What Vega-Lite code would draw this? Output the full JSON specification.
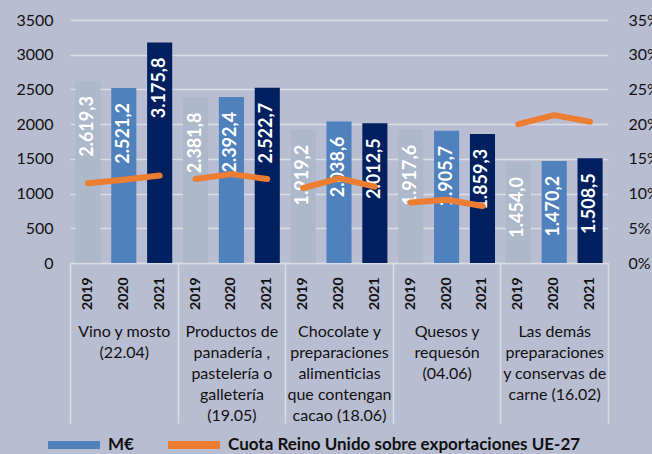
{
  "$schema": "https://vega.github.io/schema/vega-lite/v6.json",
  "width": 538,
  "height": 243,
  "autosize": {"type": "none"},
  "padding": {"left": 70, "top": 20, "right": 44, "bottom": 191},
  "background": "#b8bdd2",
  "config": {
    "view": {"stroke": null},
    "font": "Lato",
    "locale": {"number": {"decimal": ",", "thousands": ".", "grouping": [3], "currency": ["", " €"]}},
    "axis": {"labelColor": "#111111", "labelFont": "Lato"}
  },
  "data": {
    "values": [
      {"cat": "Vino y mosto|(22.04)", "year": "2019", "key": "Vino 2019", "value": 2619.3, "share": 0.115},
      {"cat": "Vino y mosto|(22.04)", "year": "2020", "key": "Vino 2020", "value": 2521.2, "share": 0.12},
      {"cat": "Vino y mosto|(22.04)", "year": "2021", "key": "Vino 2021", "value": 3175.8, "share": 0.126},
      {"cat": "Productos de|panadería ,|pastelería o|galletería|(19.05)", "year": "2019", "key": "Panaderia 2019", "value": 2381.8, "share": 0.121},
      {"cat": "Productos de|panadería ,|pastelería o|galletería|(19.05)", "year": "2020", "key": "Panaderia 2020", "value": 2392.4, "share": 0.128},
      {"cat": "Productos de|panadería ,|pastelería o|galletería|(19.05)", "year": "2021", "key": "Panaderia 2021", "value": 2522.7, "share": 0.121},
      {"cat": "Chocolate y|preparaciones|alimenticias|que contengan|cacao  (18.06)", "year": "2019", "key": "Chocolate 2019", "value": 1919.2, "share": 0.108},
      {"cat": "Chocolate y|preparaciones|alimenticias|que contengan|cacao  (18.06)", "year": "2020", "key": "Chocolate 2020", "value": 2038.6, "share": 0.122},
      {"cat": "Chocolate y|preparaciones|alimenticias|que contengan|cacao  (18.06)", "year": "2021", "key": "Chocolate 2021", "value": 2012.5, "share": 0.11},
      {"cat": "Quesos y|requesón|(04.06)", "year": "2019", "key": "Quesos 2019", "value": 1917.6, "share": 0.087},
      {"cat": "Quesos y|requesón|(04.06)", "year": "2020", "key": "Quesos 2020", "value": 1905.7, "share": 0.091},
      {"cat": "Quesos y|requesón|(04.06)", "year": "2021", "key": "Quesos 2021", "value": 1859.3, "share": 0.082},
      {"cat": "Las demás|preparaciones|y conservas de|carne (16.02)", "year": "2019", "key": "Carne 2019", "value": 1454.0, "share": 0.2},
      {"cat": "Las demás|preparaciones|y conservas de|carne (16.02)", "year": "2020", "key": "Carne 2020", "value": 1470.2, "share": 0.213},
      {"cat": "Las demás|preparaciones|y conservas de|carne (16.02)", "year": "2021", "key": "Carne 2021", "value": 1508.5, "share": 0.2035}
    ]
  },
  "layer": [
    {
      "layer": [
        {
          "layer": [
            {
              "mark": {"type": "bar", "strokeWidth": 0},
              "encoding": {
                "x": {
                  "field": "key", "type": "nominal", "sort": null,
                  "scale": {"paddingInner": 0.3, "paddingOuter": 0.15},
                  "axis": {"orient": "bottom", "title": null, "labelExpr": "slice(datum.value, -4)", "labelAngle": -90, "labelFontSize": 14, "labelFontWeight": "bold", "labelPadding": 14, "ticks": false, "domain": false, "grid": false}
                },
                "y": {
                  "field": "value", "type": "quantitative",
                  "scale": {"domain": [0, 3500]},
                  "axis": {"title": null, "values": [0, 500, 1000, 1500, 2000, 2500, 3000, 3500], "format": "d", "labelOverlap": false, "labelFontSize": 16, "labelFontWeight": "normal", "labelPadding": 17, "ticks": false, "domain": false, "grid": true, "gridColor": "#dcdde4", "gridWidth": 1.5}
                },
                "fill": {
                  "field": "year", "type": "nominal",
                  "scale": {"domain": ["2019", "2020", "2021"], "range": ["#adb8cb", "#4f81bd", "#002060"]},
                  "legend": null
                },
                "stroke": {
                  "datum": "M€",
                  "scale": {"domain": ["M€", "Cuota Reino Unido sobre exportaciones UE-27"], "range": ["#4f81bd", "#ed7d31"]},
                  "legend": {
                    "orient": "none", "legendX": -26, "legendY": 395, "direction": "horizontal", "title": null,
                    "symbolType": "stroke", "symbolSize": 2704, "symbolStrokeWidth": 8, "labelFontSize": 17, "labelFontWeight": "bold", "labelColor": "#111111", "labelOffset": 4, "labelLimit": 600, "columnPadding": 18,
                    "encode": {"symbols": {"enter": {"strokeWidth": {"signal": "datum.value === 'M€' ? 10 : 6"}, "strokeCap": {"signal": "datum.value === 'M€' ? 'butt' : 'round'"}}, "update": {"strokeWidth": {"signal": "datum.value === 'M€' ? 10 : 6"}, "strokeCap": {"signal": "datum.value === 'M€' ? 'butt' : 'round'"}, "opacity": {"value": 1}}}}
                  }
                }
              }
            },
            {
              "mark": {"type": "text", "angle": 270, "align": "right", "baseline": "middle", "dx": -15, "color": "white", "fontSize": 18, "fontWeight": "bold"},
              "encoding": {
                "x": {"field": "key", "type": "nominal", "sort": null},
                "y": {
                  "field": "value", "type": "quantitative",
                  "axis": {"title": null, "values": [0, 500, 1000, 1500, 2000, 2500, 3000, 3500], "format": "d", "labelOverlap": false, "labelFontSize": 16, "labelFontWeight": "normal", "labelPadding": 17, "ticks": false, "domain": false, "grid": true, "gridColor": "#dcdde4", "gridWidth": 1.5}
                },
                "text": {"field": "value", "type": "quantitative", "format": ",.1f"}
              }
            }
          ]
        },
        {
          "mark": {"type": "line", "strokeWidth": 6, "strokeCap": "round", "strokeJoin": "round"},
          "encoding": {
            "x": {"field": "key", "type": "nominal", "sort": null},
            "y": {
              "field": "share", "type": "quantitative",
              "scale": {"domain": [0, 0.35]},
              "axis": {"orient": "right", "title": null, "values": [0, 0.05, 0.1, 0.15, 0.2, 0.25, 0.3, 0.35], "format": ".0%", "labelOverlap": false, "labelFontSize": 16, "labelPadding": 20, "ticks": false, "domain": false, "grid": false}
            },
            "detail": {"field": "cat"},
            "stroke": {"datum": "Cuota Reino Unido sobre exportaciones UE-27"}
          }
        }
      ],
      "resolve": {"scale": {"y": "independent"}}
    },
    {
      "mark": {"type": "rule", "opacity": 0},
      "encoding": {
        "x": {
          "field": "cat", "type": "nominal", "sort": null,
          "scale": {"type": "band", "padding": 0},
          "axis": {"orient": "bottom", "title": null, "labelExpr": "isValid(datum.value) ? split(datum.value, '|') : ''", "tickBand": "extent", "tickSize": 160, "tickColor": "#dcdde4", "tickWidth": 1.5, "domain": true, "domainColor": "#dcdde4", "domainWidth": 1.5, "labelAngle": 0, "labelFontSize": 16, "labelLineHeight": 21, "labelPadding": -100, "labelBaseline": "top", "labelColor": "#111111", "grid": false}
        }
      }
    }
  ],
  "resolve": {"scale": {"x": "independent", "y": "independent"}}
}
